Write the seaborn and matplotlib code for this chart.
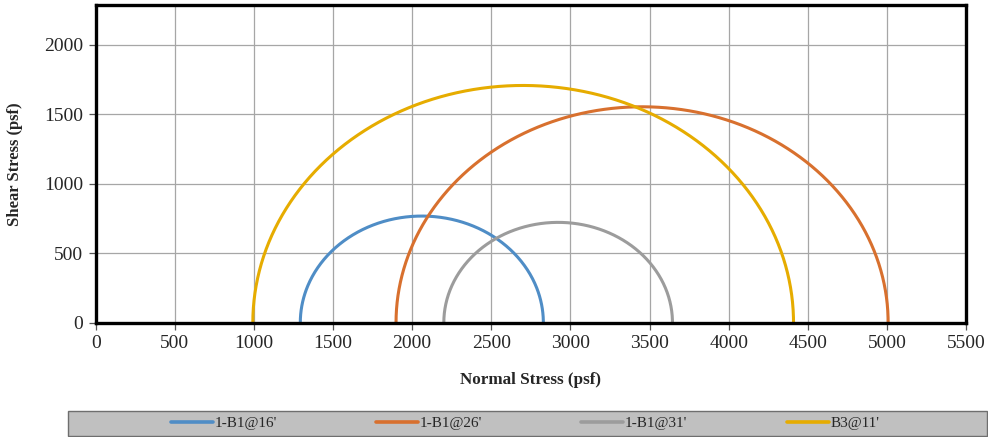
import numpy as np
import pandas as pd
import matplotlib
matplotlib.use("Agg")
import matplotlib.pyplot as plt
from matplotlib.lines import Line2D
from matplotlib.patches import Rectangle
import seaborn as sns

# Mohr circle test data: minor and major principal stresses (psf)
samples = ["1-B1@16'", "1-B1@26'", "1-B1@31'", "B3@11'"]
sigma3 = [1293, 1898, 2200, 993]
sigma1 = [2829, 5008, 3645, 4410]
colors = ["#4F8DC6", "#D8702E", "#9C9C9C", "#E6AC00"]

x_ticks = list(range(0, 5501, 500))
y_ticks = list(range(0, 2001, 500))

# Build each semicircle from its principal stresses
theta = np.linspace(np.pi, 0, 400)
frames = []
for name, s3, s1 in zip(samples, sigma3, sigma1):
    c = (s1 + s3) / 2.0
    r = (s1 - s3) / 2.0
    frames.append(pd.DataFrame({
        "Normal": c + r * np.cos(theta),
        "Shear": r * np.sin(theta),
        "Sample": name,
    }))
df = pd.concat(frames, ignore_index=True)

sns.set_theme(style="white")
plt.rcParams["font.family"] = ["Liberation Serif", "DejaVu Serif"]

W, H = 988, 437
fig = plt.figure(figsize=(W / 100, H / 100), dpi=100)
ax = fig.add_axes([95.7 / W, 1 - 322.7 / H, (966 - 95.7) / W, (322.7 - 5) / H])

sns.lineplot(data=df, x="Normal", y="Shear", hue="Sample", hue_order=samples,
             palette=colors, sort=False, estimator=None, units="Sample",
             linewidth=2.2, ax=ax, legend=False, zorder=3)

ax.set_xlim(0, 5500)
ax.set_ylim(0, 2288)
ax.set_xticks(x_ticks)
ax.set_yticks(y_ticks)
ax.grid(True, color="#a6a6a6", linewidth=0.9)
ax.set_axisbelow(True)
for sp in ax.spines.values():
    sp.set_visible(True)
    sp.set_color("black")
    sp.set_linewidth(2.4)
    sp.set_zorder(4)
ax.tick_params(axis="both", which="major", direction="out", length=5, width=0.9,
               color="#555555", labelsize=14, pad=4, bottom=True, left=True)
ax.set_xlabel("Normal Stress (psf)", fontsize=12.3, fontweight="bold", labelpad=14)
ax.set_ylabel("Shear Stress (psf)", fontsize=12, fontweight="bold", labelpad=15)

# Gray legend band beneath the chart
fig.patches.append(Rectangle((68 / W, 1 - 436 / H), (987 - 68) / W, 25 / H,
                             transform=fig.transFigure, facecolor="#c0c0c0",
                             edgecolor="#6e6e6e", linewidth=1.0, zorder=0))
handles = [Line2D([0], [0], color=c, linewidth=2.6) for c in colors]
leg = fig.legend(handles, samples, loc="center",
                 bbox_to_anchor=(525 / W, 1 - 423.5 / H),
                 ncol=4, fontsize=11, frameon=False,
                 handlelength=2.75, handletextpad=0.1, columnspacing=6.5,
                 borderaxespad=0, borderpad=0)

fig.savefig("out.png", dpi=100)
